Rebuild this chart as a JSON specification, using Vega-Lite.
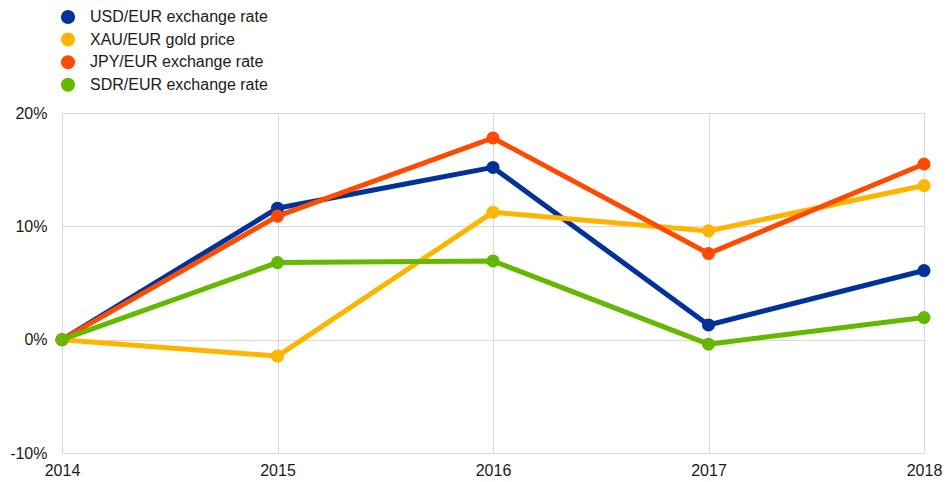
{
  "$schema": "https://vega.github.io/schema/vega-lite/v6.json",
  "width": 862,
  "height": 340,
  "autosize": "none",
  "padding": {"left": 62, "top": 113, "right": 27, "bottom": 29},
  "config": {
    "view": {"stroke": null},
    "font": "Liberation Sans",
    "axis": {"labelFont": "Liberation Sans", "labelFontSize": 16, "labelColor": "#1a1a1a", "gridColor": "#d9d9d9", "gridWidth": 1, "domain": false, "ticks": false}
  },
  "data": {
    "values": [
      {"year": 2014, "series": "USD/EUR exchange rate", "value": 0},
      {"year": 2015, "series": "USD/EUR exchange rate", "value": 11.6},
      {"year": 2016, "series": "USD/EUR exchange rate", "value": 15.2},
      {"year": 2017, "series": "USD/EUR exchange rate", "value": 1.3},
      {"year": 2018, "series": "USD/EUR exchange rate", "value": 6.1},
      {"year": 2014, "series": "XAU/EUR gold price", "value": 0},
      {"year": 2015, "series": "XAU/EUR gold price", "value": -1.45},
      {"year": 2016, "series": "XAU/EUR gold price", "value": 11.25},
      {"year": 2017, "series": "XAU/EUR gold price", "value": 9.6},
      {"year": 2018, "series": "XAU/EUR gold price", "value": 13.6},
      {"year": 2014, "series": "JPY/EUR exchange rate", "value": 0},
      {"year": 2015, "series": "JPY/EUR exchange rate", "value": 10.9},
      {"year": 2016, "series": "JPY/EUR exchange rate", "value": 17.8},
      {"year": 2017, "series": "JPY/EUR exchange rate", "value": 7.6},
      {"year": 2018, "series": "JPY/EUR exchange rate", "value": 15.5},
      {"year": 2014, "series": "SDR/EUR exchange rate", "value": 0},
      {"year": 2015, "series": "SDR/EUR exchange rate", "value": 6.8},
      {"year": 2016, "series": "SDR/EUR exchange rate", "value": 6.95},
      {"year": 2017, "series": "SDR/EUR exchange rate", "value": -0.4},
      {"year": 2018, "series": "SDR/EUR exchange rate", "value": 1.95}
    ]
  },
  "encoding": {
    "x": {"field": "year", "type": "quantitative", "scale": {"domain": [2014, 2018], "nice": false, "zero": false},
          "axis": {"title": null, "values": [2014, 2015, 2016, 2017, 2018], "format": "d", "labelPadding": 9, "labelFlush": false, "grid": true}},
    "y": {"field": "value", "type": "quantitative", "scale": {"domain": [-10, 20], "nice": false},
          "axis": {"title": null, "values": [-10, 0, 10, 20], "labelExpr": "datum.value + '%'", "labelPadding": 15, "grid": true}},
    "color": {"field": "series", "type": "nominal",
      "scale": {"domain": ["USD/EUR exchange rate", "XAU/EUR gold price", "JPY/EUR exchange rate", "SDR/EUR exchange rate"],
                "range": ["#003299", "#ffb400", "#ff4b00", "#65b800"]},
      "legend": {"title": null, "orient": "none", "legendX": -2, "legendY": -104, "symbolType": "circle", "symbolSize": 200, "symbolStrokeWidth": 0, "symbolOpacity": 1,
                 "labelFont": "Liberation Sans", "labelFontSize": 16, "labelColor": "#1a1a1a", "labelOffset": 14, "labelLimit": 400, "rowPadding": 6.6}}
  },
  "layer": [
    {"mark": {"type": "line", "strokeWidth": 5}},
    {"mark": {"type": "circle", "size": 170, "opacity": 1}}
  ]
}
